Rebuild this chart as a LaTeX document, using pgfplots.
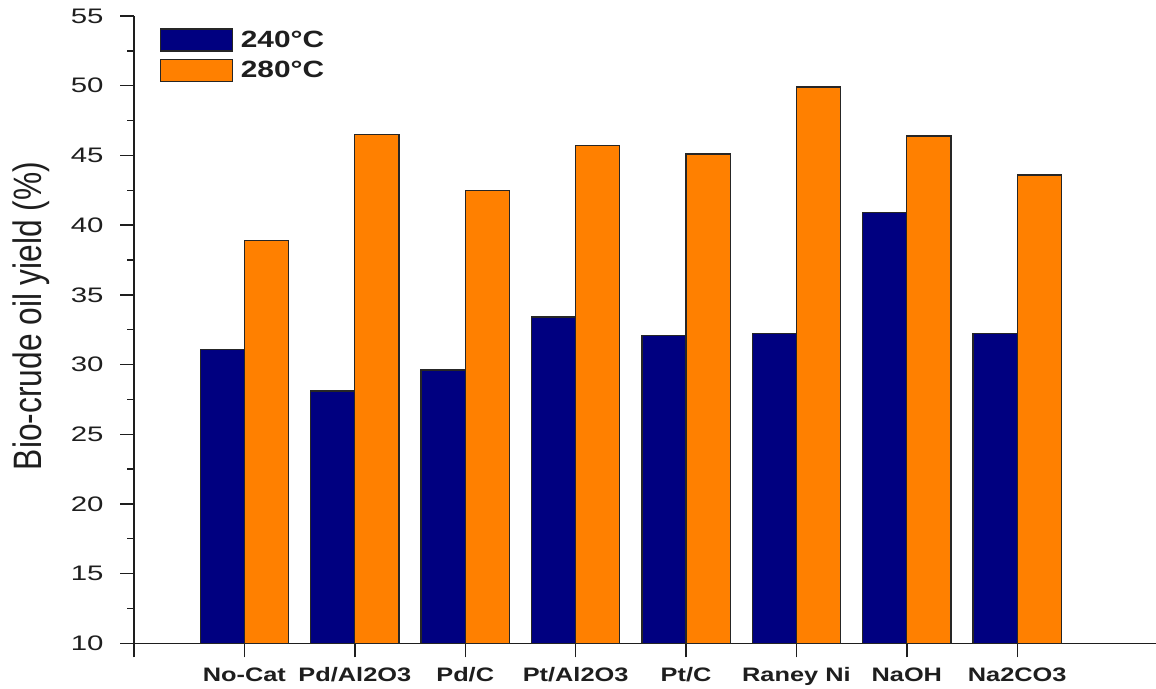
\documentclass[border=0pt]{standalone}
\usepackage{pgfplots}
\pgfplotsset{compat=1.18}
\usepackage{fontspec}
\setmainfont{Liberation Sans}
\usepackage{graphicx}
\definecolor{cNavy}{RGB}{0,0,128}
\definecolor{cOrange}{RGB}{255,128,0}
\definecolor{cInk}{RGB}{30,30,30}
\begin{document}
\begin{tikzpicture}
\begin{axis}[
  name=ax,
  scale only axis, width=1022pt, height=627.3pt,
  xmin=0, xmax=9.257, ymin=10, ymax=55,
  axis lines*=left,
  axis line style={line width=1.6pt, cInk},
  tick align=outside,
  major tick length=14pt, minor tick length=7pt,
  every tick/.style={line width=1.4pt, cInk},
  ytick={10,15,...,55}, minor y tick num=1,
  xtick={0,...,8}, minor x tick num=0,
  /pgf/number format/assume math mode=true,
  yticklabel={\scalebox{1.4}[1]{\pgfmathprintnumber{\tick}}},
  yticklabel style={font=\fontsize{21}{21}\selectfont, text=cInk, anchor=east, xshift=-13pt},
  xticklabels={,{\scalebox{1.3}[1]{No-Cat}},{\scalebox{1.3}[1]{Pd/Al2O3}},{\scalebox{1.3}[1]{Pd/C}},{\scalebox{1.3}[1]{Pt/Al2O3}},{\scalebox{1.3}[1]{Pt/C}},{\scalebox{1.3}[1]{Raney Ni}},{\scalebox{1.3}[1]{NaOH}},{\scalebox{1.3}[1]{Na2CO3}}},
  xticklabel style={font=\fontsize{19.5}{19.5}\selectfont\bfseries, text=cInk, anchor=north, inner sep=0pt, yshift=-10pt},
  ylabel={\scalebox{1}[1.25]{Bio-crude oil yield (\%)}},
  ylabel style={at={(axis description cs:-0.0903,0.522)}, anchor=base, font=\fontsize{31.7}{32}\selectfont, text=cInk},
  legend style={draw=none, fill=none, at={(axis description cs:0.0248,0.9804)}, anchor=north west,
    font=\fontsize{23.5}{23.5}\selectfont\bfseries, row sep=7pt, column sep=6pt, inner sep=0pt, text=cInk},
  legend cell align=left,
]
\addplot[ybar, bar width=0.4, bar shift=-0.2, fill=cNavy, draw=black!85, line width=1.3pt,
  legend image code/.code={\draw[fill=cNavy, draw=black!85, line width=1.3pt] (0pt,-11pt) rectangle (72pt,11pt);}]
  coordinates {(1,31.1) (2,28.1) (3,29.6) (4,33.4) (5,32.1) (6,32.2) (7,40.9) (8,32.2)};
\addlegendentry{\scalebox{1.27}[1]{240°C}}
\addplot[ybar, bar width=0.4, bar shift=0.2, fill=cOrange, draw=black!85, line width=1.3pt,
  legend image code/.code={\draw[fill=cOrange, draw=black!85, line width=1.3pt] (0pt,-11pt) rectangle (72pt,11pt);}]
  coordinates {(1,38.9) (2,46.5) (3,42.5) (4,45.7) (5,45.1) (6,49.9) (7,46.4) (8,43.6)};
\addlegendentry{\scalebox{1.27}[1]{280°C}}
\end{axis}
\pgfresetboundingbox
\path[use as bounding box] ([shift={(-134pt,-44.7pt)}]ax.south west) rectangle ([shift={(0pt,16pt)}]ax.north east);
\end{tikzpicture}
\end{document}
